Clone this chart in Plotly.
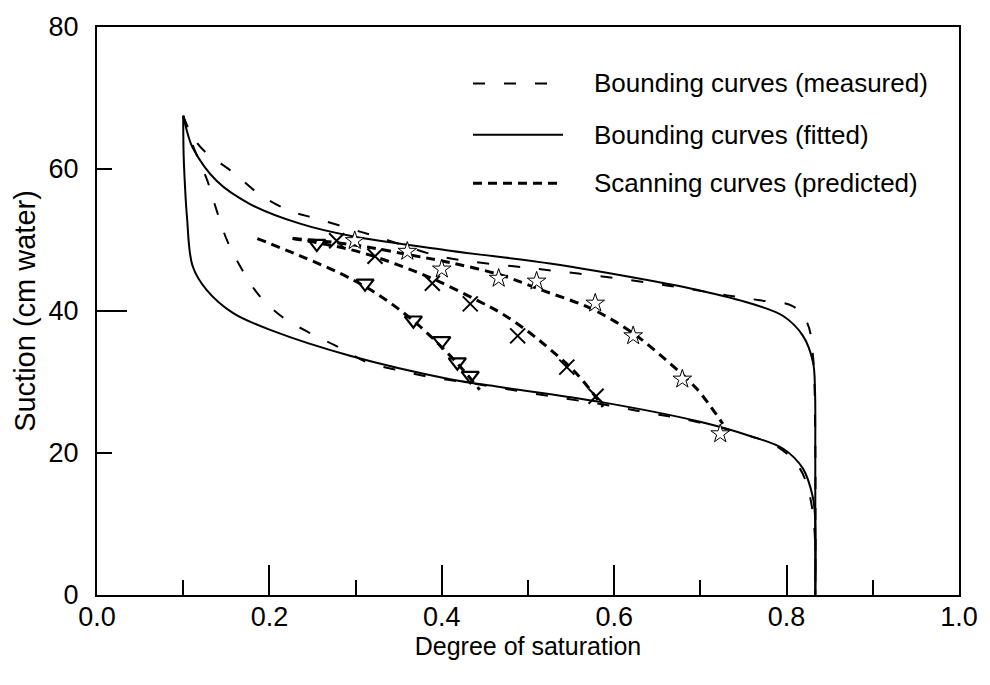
import plotly.graph_objects as go

# ---------------- data ----------------
# Bounding drying curve (fitted, solid)
fit_dry_S = [0.100, 0.1056, 0.111, 0.139, 0.177, 0.2355, 0.2935, 0.4095, 0.5255, 0.6415,
             0.6995, 0.7575, 0.796, 0.819, 0.8306, 0.8329, 0.8333, 0.8333]
fit_dry_H = [67.5, 64.8, 63.0, 58.3, 55.1, 52.3, 50.6, 48.5, 46.7, 44.3,
             42.9, 41.1, 39.3, 36.5, 32.8, 29.0, 20.0, 0.0]

# Bounding wetting curve (fitted, solid)
fit_wet_S = [0.100, 0.1005, 0.102, 0.1044, 0.111, 0.1276, 0.158, 0.204, 0.2935, 0.4095,
             0.4675, 0.5835, 0.6995, 0.7575, 0.796, 0.819, 0.8306, 0.833, 0.8333]
fit_wet_H = [67.5, 62.0, 57.8, 53.2, 46.3, 42.9, 39.7, 37.2, 33.7, 30.4,
             29.3, 27.2, 24.4, 22.4, 20.6, 17.8, 13.7, 11.0, 0.0]

# Bounding drying curve (measured, long dashes)
meas_dry_S = [0.100, 0.110, 0.123, 0.158, 0.189, 0.224, 0.255, 0.2935, 0.332, 0.394,
              0.433, 0.506, 0.5835, 0.661, 0.731, 0.769, 0.807, 0.824, 0.8306, 0.833, 0.8333]
meas_dry_H = [67.5, 64.8, 62.7, 59.5, 56.4, 54.1, 53.0, 51.6, 50.2, 47.8,
              47.0, 46.0, 44.9, 43.6, 42.2, 41.5, 40.7, 38.3, 33.7, 24.4, 0.0]

# Bounding wetting curve (measured, long dashes)
meas_wet_S = [0.100, 0.110, 0.1276, 0.139, 0.151, 0.167, 0.188, 0.2146, 0.247, 0.282,
              0.313, 0.3515, 0.386, 0.425, 0.500, 0.603, 0.6415, 0.680, 0.749, 0.789,
              0.8155, 0.830, 0.8333]
meas_wet_H = [67.5, 63.7, 58.5, 54.1, 49.9, 46.1, 42.2, 39.2, 36.9, 34.8,
              32.8, 31.6, 30.7, 30.0, 28.5, 26.5, 25.6, 24.8, 22.7, 20.9,
              17.8, 12.0, 0.0]

# Scanning curves (predicted, short dashes)
scan_a_S = [0.186, 0.235, 0.282, 0.313, 0.343, 0.373, 0.400, 0.424, 0.444]
scan_a_H = [50.2, 47.8, 45.3, 43.3, 40.9, 38.0, 34.9, 31.8, 28.9]

scan_b_S = [0.227, 0.265, 0.305, 0.3515, 0.394, 0.441, 0.4675, 0.499, 0.5255, 0.557, 0.587]
scan_b_H = [50.2, 49.4, 48.3, 46.4, 44.3, 41.5, 39.8, 37.2, 34.6, 31.1, 26.5]

scan_c_S = [0.227, 0.265, 0.309, 0.363, 0.410, 0.4675, 0.517, 0.572, 0.618, 0.661, 0.696, 0.726]
scan_c_H = [50.2, 49.8, 49.1, 47.9, 46.8, 45.1, 42.9, 40.4, 37.2, 33.0, 29.0, 24.1]

# Measured scanning points
tri_S = [0.255, 0.311, 0.367, 0.400, 0.418, 0.433]
tri_H = [49.5, 43.9, 38.7, 35.8, 32.8, 30.9]
x_S = [0.278, 0.3225, 0.389, 0.433, 0.488, 0.545, 0.579]
x_H = [49.9, 47.7, 43.9, 41.0, 36.5, 32.1, 28.0]
star_S = [0.299, 0.360, 0.400, 0.466, 0.510, 0.578, 0.622, 0.679, 0.723]
star_H = [49.9, 48.4, 45.9, 44.6, 44.2, 41.1, 36.5, 30.4, 22.7]

legend_labels = ["Bounding curves (measured)", "Bounding curves (fitted)",
                 "Scanning curves (predicted)"]

x_ticks = [0.0, 0.2, 0.4, 0.6, 0.8, 1.0]
y_ticks = [0, 20, 40, 60, 80]

FONT = "Liberation Sans, Arial, sans-serif"
BLACK = "#000000"

fig = go.Figure()

meas_line = dict(color=BLACK, width=2, dash="12px,19px")
fit_line = dict(color=BLACK, width=2)
scan_line = dict(color=BLACK, width=3, dash="9px,6px")

for S, H in [(meas_dry_S, meas_dry_H), (meas_wet_S, meas_wet_H)]:
    fig.add_trace(go.Scatter(x=S, y=H, mode="lines", line=meas_line,
                             line_shape="spline", showlegend=False, hoverinfo="skip"))
for S, H in [(fit_dry_S, fit_dry_H), (fit_wet_S, fit_wet_H)]:
    fig.add_trace(go.Scatter(x=S, y=H, mode="lines", line=fit_line,
                             line_shape="spline", showlegend=False, hoverinfo="skip"))
for S, H in [(scan_a_S, scan_a_H), (scan_b_S, scan_b_H), (scan_c_S, scan_c_H)]:
    fig.add_trace(go.Scatter(x=S, y=H, mode="lines", line=scan_line,
                             line_shape="spline", showlegend=False, hoverinfo="skip"))

fig.add_trace(go.Scatter(x=tri_S, y=tri_H, mode="markers", showlegend=False,
                         marker=dict(symbol="triangle-down-open", size=15,
                                     color=BLACK, line=dict(width=2.2, color=BLACK))))
fig.add_trace(go.Scatter(x=x_S, y=x_H, mode="markers", showlegend=False,
                         marker=dict(symbol="x-thin-open", size=15,
                                     color=BLACK, line=dict(width=2, color=BLACK))))
fig.add_trace(go.Scatter(x=star_S, y=star_H, mode="markers", showlegend=False,
                         marker=dict(symbol="star", size=14, color="white",
                                     line=dict(width=1, color=BLACK))))

# empty trace so the long-tick overlay axis is drawn
fig.add_trace(go.Scatter(x=[], y=[], yaxis="y2", showlegend=False))

# ---------------- manual legend (top right) ----------------
def px2paper_x(px):
    return (px - 97) / 862.0

def px2paper_y(py):
    return (595 - py) / 574.0

rows_y = [78, 130, 179]
samples = [
    (dict(color=BLACK, width=2, dash="12px,19px"), 473, 548),
    (dict(color=BLACK, width=2), 473, 563),
    (dict(color=BLACK, width=3, dash="9px,6px"), 473, 563),
]
for (ln, x0, x1), ry, lab in zip(samples, rows_y, legend_labels):
    fig.add_shape(type="line", xref="paper", yref="paper",
                  x0=px2paper_x(x0), x1=px2paper_x(x1),
                  y0=px2paper_y(ry), y1=px2paper_y(ry), line=ln)
    fig.add_annotation(xref="paper", yref="paper", x=px2paper_x(592), y=px2paper_y(ry),
                       text=lab, showarrow=False, xanchor="left", yanchor="middle",
                       font=dict(family=FONT, size=26, color=BLACK))

axis_common = dict(showgrid=False, zeroline=False, linecolor=BLACK, linewidth=2,
                   tickcolor=BLACK, tickwidth=2, ticks="inside",
                   tickfont=dict(family=FONT, size=27, color=BLACK))

fig.update_layout(
    width=990, height=685,
    margin=dict(l=97, r=31, t=21, b=90),
    paper_bgcolor="white", plot_bgcolor="white",
    font=dict(family=FONT, size=24, color=BLACK),
    xaxis=dict(range=[0, 1], tickvals=x_ticks, tickformat=".1f", ticklen=30,
               mirror=True, ticklabelstandoff=-3,
               minor=dict(dtick=0.1, tick0=0, ticks="inside", ticklen=15,
                          tickwidth=2, tickcolor=BLACK, showgrid=False),
               title=dict(text="Degree of saturation", standoff=0,
                          font=dict(family=FONT, size=25, color=BLACK)),
               **axis_common),
    yaxis=dict(range=[0, 80], tickvals=y_ticks, ticklen=15, mirror=True,
               ticklabelstandoff=11,
               title=dict(text="Suction (cm water)", standoff=4,
                          font=dict(family=FONT, size=29, color=BLACK)),
               **axis_common),
    yaxis2=dict(range=[0, 80], overlaying="y", side="left", tickvals=[0, 40, 80],
                ticks="inside", ticklen=30, tickwidth=2, tickcolor=BLACK,
                showticklabels=False, showline=False, showgrid=False, zeroline=False),
    showlegend=False,
)

fig.write_html("out.html")
